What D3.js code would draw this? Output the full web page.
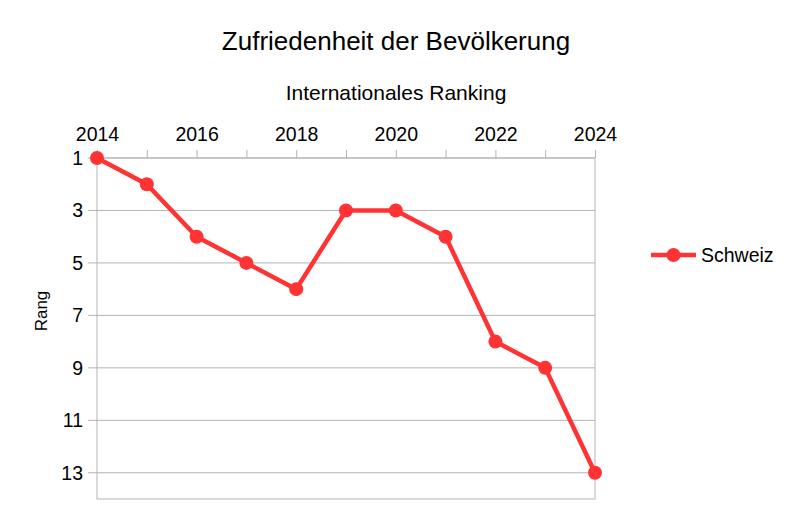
<!DOCTYPE html>
<html>
<head>
<meta charset="utf-8">
<script src="https://cdn.jsdelivr.net/npm/d3@7"></script>
<style>
  body { margin: 0; background: #fff; }
  text { font-family: "Liberation Sans", Arial, sans-serif; fill: #000; }
</style>
</head>
<body>
<div id="chart"></div>
<script>
// Chart data
var years = [2014, 2015, 2016, 2017, 2018, 2019, 2020, 2021, 2022, 2023, 2024];
var rangSchweiz = [1, 2, 4, 5, 6, 3, 3, 4, 8, 9, 13];
var xTickLabels = [2014, 2016, 2018, 2020, 2022, 2024];
var yTickLabels = [1, 3, 5, 7, 9, 11, 13];
var seriesName = "Schweiz";

var svgWidth = 792;
var svgHeight = 510;

var chartMargin = { top: 158, right: 197, bottom: 11, left: 97 };
var chartWidth = svgWidth - chartMargin.left - chartMargin.right;
var chartHeight = svgHeight - chartMargin.top - chartMargin.bottom;

var svg = d3.select("#chart")
  .append("svg")
  .attr("width", svgWidth)
  .attr("height", svgHeight);

var chartGroup = svg.append("g")
  .attr("transform", `translate(${chartMargin.left}, ${chartMargin.top})`);

var xScale = d3.scaleLinear()
  .domain([2014, 2024])
  .range([0, chartWidth]);

// rank 1 on top, bottom edge at 14
var yScale = d3.scaleLinear()
  .domain([1, 14])
  .range([0, chartHeight]);

var gridColor = "#b3b3b3";
var labelSize = "19.5px";

// horizontal gridlines
chartGroup.selectAll("line.grid")
  .data(yTickLabels)
  .enter()
  .append("line")
  .attr("class", "grid")
  .attr("x1", -9)
  .attr("x2", chartWidth)
  .attr("y1", d => yScale(d))
  .attr("y2", d => yScale(d))
  .attr("stroke", gridColor)
  .attr("stroke-width", 1);

// plot border
chartGroup.append("rect")
  .attr("x", 0)
  .attr("y", 0)
  .attr("width", chartWidth)
  .attr("height", chartHeight)
  .attr("fill", "none")
  .attr("stroke", gridColor)
  .attr("stroke-width", 1);

// top axis (ticks every year, labels every 2)
var topAxis = d3.axisTop(xScale)
  .tickValues(years)
  .tickSize(8)
  .tickPadding(9)
  .tickFormat(d => xTickLabels.indexOf(d) >= 0 ? d : "");

var xAxisG = chartGroup.append("g").call(topAxis);
xAxisG.select(".domain").remove();
xAxisG.selectAll(".tick line").attr("stroke", gridColor);
xAxisG.selectAll(".tick text")
  .style("font-family", "Liberation Sans, Arial, sans-serif")
  .style("font-size", labelSize)
  .attr("fill", "#000");

// left axis labels
var leftAxis = d3.axisLeft(yScale)
  .tickValues(yTickLabels)
  .tickSize(0)
  .tickPadding(14);

var yAxisG = chartGroup.append("g").call(leftAxis);
yAxisG.select(".domain").remove();
yAxisG.selectAll(".tick text")
  .style("font-family", "Liberation Sans, Arial, sans-serif")
  .style("font-size", labelSize)
  .attr("fill", "#000");

var lineColor = "#ff3333";

var line = d3.line()
  .x((d, i) => xScale(years[i]))
  .y(d => yScale(d));

chartGroup.append("path")
  .datum(rangSchweiz)
  .attr("d", line)
  .attr("fill", "none")
  .attr("stroke", lineColor)
  .attr("stroke-width", 4.5)
  .attr("stroke-linejoin", "round");

chartGroup.selectAll("circle")
  .data(rangSchweiz)
  .enter()
  .append("circle")
  .attr("cx", (d, i) => xScale(years[i]))
  .attr("cy", d => yScale(d))
  .attr("r", 7)
  .attr("fill", lineColor);

// titles
svg.append("text")
  .attr("x", 396)
  .attr("y", 50)
  .attr("text-anchor", "middle")
  .style("font-size", "26px")
  .text("Zufriedenheit der Bevölkerung");

svg.append("text")
  .attr("x", 396)
  .attr("y", 100)
  .attr("text-anchor", "middle")
  .style("font-size", "21px")
  .text("Internationales Ranking");

svg.append("text")
  .attr("transform", "rotate(-90)")
  .attr("x", -311)
  .attr("y", 47)
  .attr("text-anchor", "middle")
  .style("font-size", "17px")
  .text("Rang");

// legend
var legend = svg.append("g").attr("transform", "translate(651, 255)");
legend.append("line")
  .attr("x1", 0)
  .attr("x2", 45)
  .attr("stroke", lineColor)
  .attr("stroke-width", 4.5);
legend.append("circle")
  .attr("cx", 22.5)
  .attr("r", 7)
  .attr("fill", lineColor);
legend.append("text")
  .attr("x", 50)
  .attr("y", 7)
  .style("font-size", labelSize)
  .text(seriesName);
</script>
</body>
</html>
